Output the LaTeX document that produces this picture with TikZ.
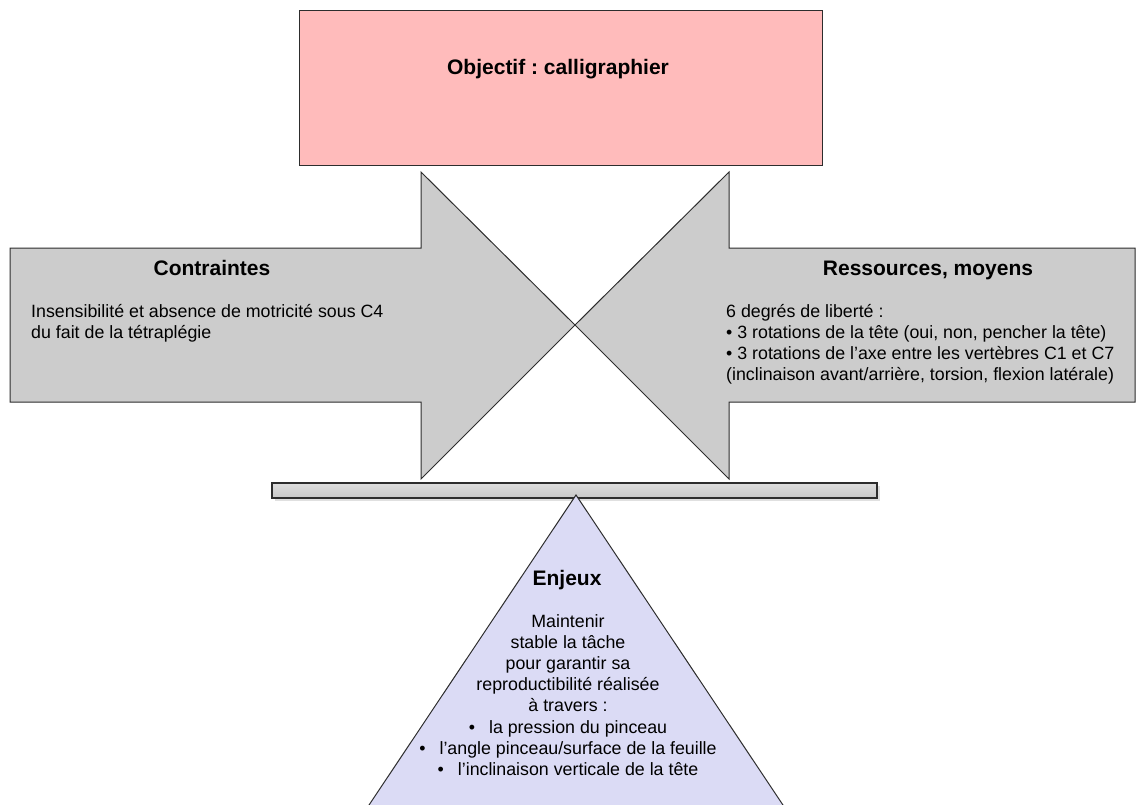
\documentclass[tikz,border=0pt]{standalone}
\usepackage{fontspec}
\setmainfont{Liberation Sans}
\usetikzlibrary{positioning}
\frenchspacing

\definecolor{objpink}{RGB}{255,187,187}
\definecolor{arrowgray}{RGB}{204,204,204}
\definecolor{enjeuxblue}{RGB}{219,219,245}
\definecolor{edgegray}{RGB}{45,45,45}

\begin{document}
\begin{tikzpicture}[
            x = 1pt, y = -1pt, % pixel grid, y pointing down
            line join = miter,
            inner sep = 0pt
        ]

        \tikzstyle{outline}=[
            draw = edgegray,
            line width = 1pt
        ]
        \tikzstyle{titre}=[
            font = \fontsize{21}{24}\selectfont\bfseries,
            anchor = base
        ]
        % base anchor = baseline of the last line
        \tikzstyle{texte}=[
            font = \fontsize{17.8}{21.2}\selectfont,
            anchor = base west,
            align = left
        ]

        \clip (0,0) rectangle (1137,804);

        % objectif
        \draw[outline, fill = objpink] (299,10) rectangle (822,165);
        % fleches
        \draw[outline, fill = arrowgray] (10,248) -- (421,248) -- (421,172) -- (575,325)
            -- (421,479) -- (421,402) -- (10,402) -- cycle;
        \draw[outline, fill = arrowgray] (1135,248) -- (729,248) -- (729,172) -- (575,325)
            -- (729,479) -- (729,402) -- (1135,402) -- cycle;
        % barre
        \fill[black!12] (275,486) rectangle (880,501);
        \draw[draw = edgegray, line width = 1.5pt, top color = black!13, bottom color = black!22]
            (272,483) rectangle (877,498);
        % enjeux
        \draw[outline, fill = enjeuxblue] (576,495) -- (355,826) -- (797,826) -- cycle;

        \node (objectif) [titre] at (558,74) {Objectif : calligraphier};
        \node (contraintes) [titre] at (212,275) {Contraintes};
        \node (ressources) [titre] at (928,275) {Ressources, moyens};
        \node (enjeux) [titre] at (567,585) {Enjeux};

        \node (contraintestxt) [texte] at (31,338.2) {Insensibilité et absence de motricité sous C4\\
            du fait de la tétraplégie};
        \node (ressourcestxt) [texte] at (726,380.6) {6 degrés de liberté :\\
            • 3 rotations de la tête (oui, non, pencher la tête)\\
            • 3 rotations de l’axe entre les vertèbres C1 et C7\\
            (inclinaison avant/arrière, torsion, flexion latérale)};
        \node (enjeuxtxt) [texte, align = center, anchor = base] at (568,775.4) {Maintenir\\
            stable la tâche\\
            pour garantir sa\\
            reproductibilité réalisée\\
            à travers :\\
            •\hspace{14pt}la pression du pinceau\\
            •\hspace{14pt}l’angle pinceau/surface de la feuille\\
            •\hspace{14pt}l’inclinaison verticale de la tête};

    \end{tikzpicture}
\end{document}
